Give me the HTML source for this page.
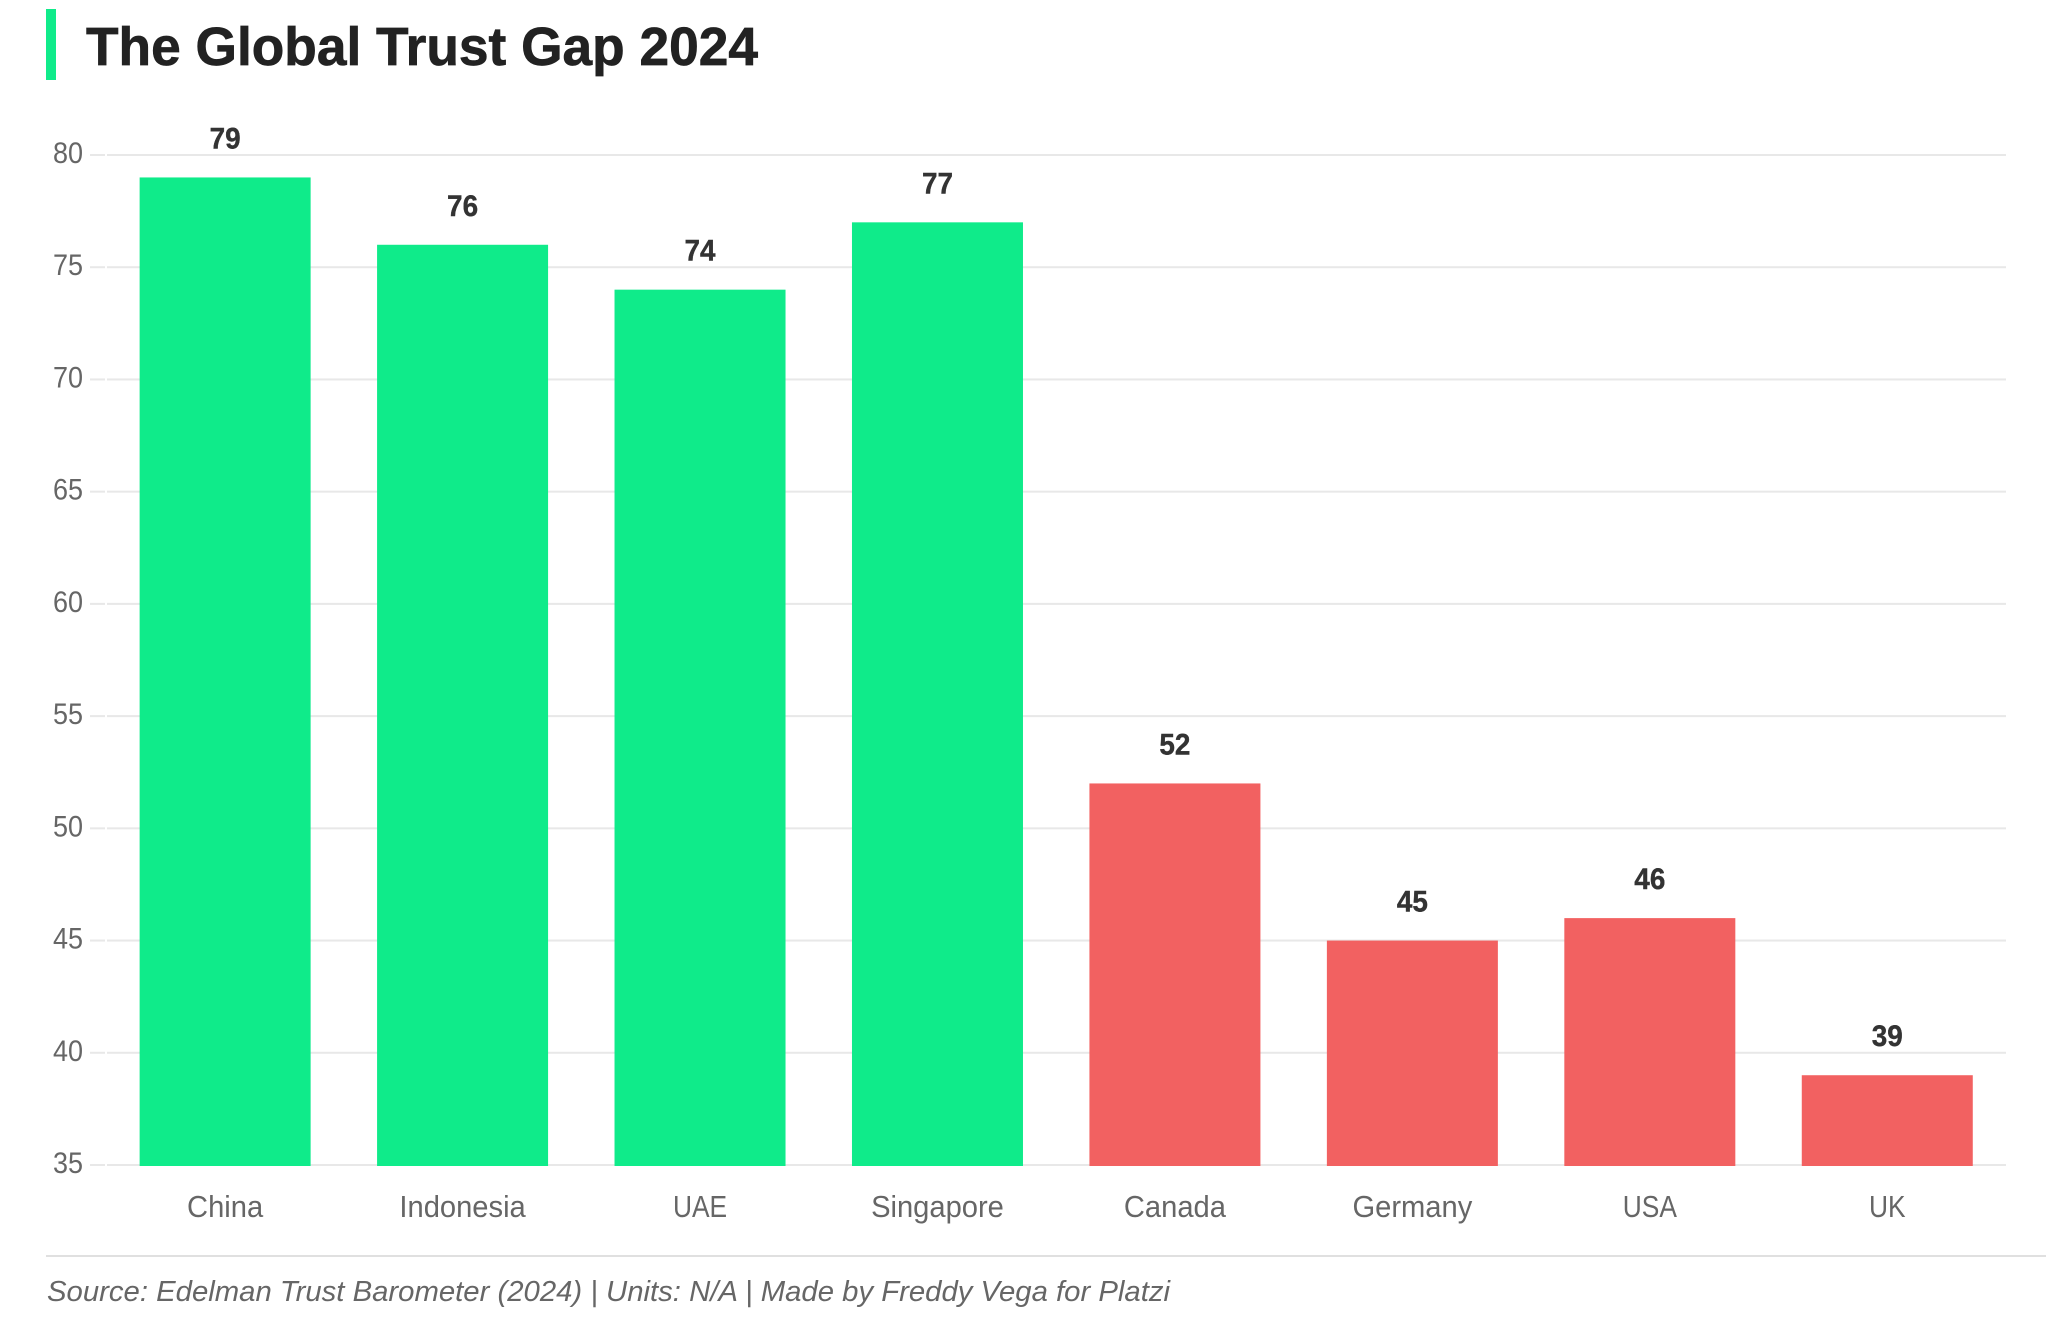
<!DOCTYPE html>
<html lang="en">
<head>
<meta charset="utf-8">
<title>The Global Trust Gap 2024</title>
<style>
html,body{margin:0;padding:0;background:#fff;width:2068px;height:1330px;overflow:hidden}
svg{display:block}
text{font-family:"Liberation Sans",sans-serif}
</style>
</head>
<body>
<svg id="chart" xmlns="http://www.w3.org/2000/svg" width="2068" height="1330" viewBox="0 0 2068 1330">
  <rect x="46" y="9" width="10" height="71" fill="#0feb8a"/>
  <text x="86" y="65" font-size="54" font-weight="700" fill="#222222" stroke="#222222" stroke-width="0.7" textLength="672" lengthAdjust="spacingAndGlyphs">The Global Trust Gap 2024</text>
  <g id="grid"></g>
  <g id="bars"></g>
  <g id="labels"></g>
  <rect x="46" y="1255" width="2000" height="2" fill="#e0e0e0"/>
  <text x="47" y="1301" font-size="29" font-style="italic" fill="#666666" textLength="1123" lengthAdjust="spacingAndGlyphs">Source: Edelman Trust Barometer (2024) | Units: N/A | Made by Freddy Vega for Platzi</text>
</svg>
<script>
const categories = ["China", "Indonesia", "UAE", "Singapore", "Canada", "Germany", "USA", "UK"];
const trustValues = [79, 76, 74, 77, 52, 45, 46, 39];
const yTickLabels = [35, 40, 45, 50, 55, 60, 65, 70, 75, 80];
const gapThreshold = 60;

const NS = "http://www.w3.org/2000/svg";
const plotLeft = 106.4, plotRight = 2006, yMin = 35, yMax = 80, yBottom = 1165, yTop = 155;
const bandWidth = (plotRight - plotLeft) / categories.length;
const barWidth = 171;

function yScale(v) {
  return yBottom - (v - yMin) / (yMax - yMin) * (yBottom - yTop);
}
function xCenter(i) {
  return plotLeft + bandWidth * (i + 0.5);
}
function make(tag, attrs, parent) {
  const el = document.createElementNS(NS, tag);
  for (const k in attrs) el.setAttribute(k, attrs[k]);
  parent.appendChild(el);
  return el;
}
function categoryWidthScale(name) {
  return name === name.toUpperCase() ? 0.85 : 0.94;
}

const grid = document.getElementById("grid");
const bars = document.getElementById("bars");
const labels = document.getElementById("labels");

yTickLabels.forEach(function (t) {
  const y = yScale(t);
  const tick = make("rect", {x: 90, y: y - 1, width: 15, height: 2, fill: "#e8e8e8"}, grid);
  
  
  const line = make("rect", {x: 107, y: y - 1, width: plotRight - 107, height: 2, fill: "#e8e8e8"}, grid);
  
  
  const label = make("text", {
    transform: "translate(83," + (y + 8) + ") scale(0.9,1)",
    "text-anchor": "end", "font-size": 30, fill: "#666666"
  }, grid);
  label.textContent = t;
  
  
});

categories.forEach(function (c, i) {
  const v = trustValues[i];
  const top = yScale(v);
  const cx = xCenter(i);
  const bar = make("rect", {
    x: cx - barWidth / 2, y: top, width: barWidth, height: yBottom + 1 - top,
    fill: v >= gapThreshold ? "#0feb8a" : "#f26161"
  }, bars);
  
  

  const val = make("text", {
    transform: "translate(" + cx + "," + (top - 29) + ") scale(0.93,1)",
    "text-anchor": "middle", "font-size": 30, "font-weight": 700, fill: "#333333",
    stroke: "#333333", "stroke-width": 0.4
  }, labels);
  val.textContent = v;
  
  

  const cat = make("text", {
    transform: "translate(" + cx + ",1217) scale(" + categoryWidthScale(c) + ",1)",
    "text-anchor": "middle", "font-size": 31, fill: "#666666"
  }, labels);
  cat.textContent = c;
  
  
});
</script>
</body>
</html>
